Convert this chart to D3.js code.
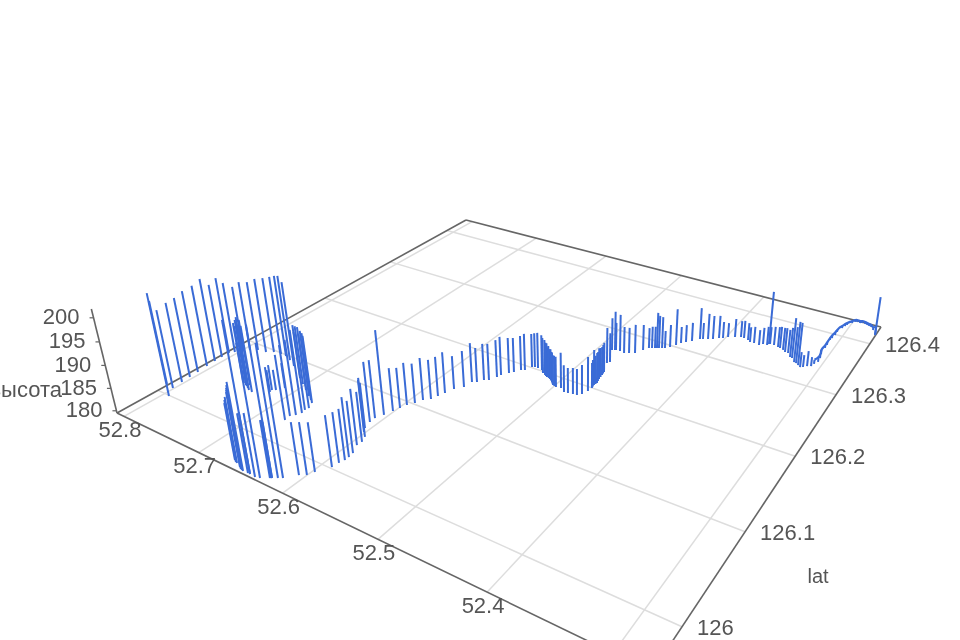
<!DOCTYPE html>
<html><head><meta charset="utf-8">
<style>html,body{margin:0;padding:0;background:#fff}svg{display:block;filter:blur(.55px)}text{font-family:"Liberation Sans",Arial,sans-serif;fill:#555}</style>
<script src="https://cdn.jsdelivr.net/npm/d3@7"></script></head><body><script>
const lonTicks=[52.3,52.4,52.5,52.6,52.7,52.8];
const latTicks=[126,126.1,126.2,126.3,126.4];
const altTicks=[180,185,190,195,200];
const lonValues=[52.7933,52.8120,52.8014,52.8028,52.8036,52.8044,52.8058,52.8067,52.8069,52.8070,52.8035,52.7997,52.7937,52.7869,52.7771,52.7704,
52.7615,52.7544,52.7454,52.7338,52.7129,52.7028,52.6929,52.6832,52.6769,52.6725,52.6690,52.6698,52.6686,52.6709,52.6743,52.6734,
52.6658,52.6612,52.6549,52.6504,52.6522,52.6630,52.6532,52.6487,52.6432,52.6408,52.6343,52.6230,52.6223,52.6216,52.6299,52.6216,
52.6175,52.6140,52.6408,52.6058,52.6003,52.5976,52.7564,52.7515,52.7472,52.7451,52.7416,52.7382,52.7440,52.7332,52.7199,52.7121,
52.7167,52.7189,52.5904,52.5893,52.5879,52.5879,52.5888,52.5937,52.5930,52.5958,52.6015,52.6048,52.6073,52.6076,52.6040,52.6013,
52.5990,52.5968,52.5927,52.5896,52.5844,52.5821,52.5797,52.5767,52.5709,52.5697,52.5657,52.5621,52.5581,52.5547,52.5535,52.5491,
52.5460,52.5423,52.5391,52.5363,52.5339,52.5304,52.5252,52.5214,52.5178,52.5143,52.5135,52.5100,52.5056,52.5020,52.4978,52.4929,
52.4870,52.4830,52.4782,52.4742,52.4711,52.4690,52.4684,52.4694,52.4687,52.4706,52.4717,52.4727,52.4784,52.4768,52.4863,52.4837,
52.4829,52.4786,52.4733,52.4691,52.4641,52.4600,52.4568,52.4542,52.4517,52.4500,52.4483,52.4457,52.4432,52.4398,52.4364,52.4339,
52.4305,52.4262,52.4210,52.4184,52.4141,52.4098,52.4054,52.4020,52.3984,52.3924,52.3872,52.3838,52.3788,52.3756,52.3714,52.3657,
52.3630,52.3588,52.3570,52.3579,52.3529,52.3481,52.3457,52.3418,52.3387,52.3355,52.3312,52.3289,52.3246,52.3223,52.3194,52.3165,
52.3141,52.3114,52.3081,52.3069,52.3048,52.3056,52.3072,52.3076,52.3078,52.3084,52.3079,52.3072,52.3074,52.3074,52.3056,52.3043,
52.3032,52.3018,52.3000,52.2980,52.2962,52.2930,52.2912,52.2879,52.2855,52.2832,52.2808,52.2773,52.2726,52.2726,
52.5160,52.5118,52.5078,52.5040,52.5000,52.4690,52.4690,52.4696,52.4712,52.4722];
const latValues=[125.9993,126.0106,126.0092,126.0196,126.0286,126.0378,126.0488,126.0584,126.0664,126.0746,126.0787,126.0851,126.0885,126.0924,
126.0938,126.0977,126.0986,126.0985,126.0954,126.0900,126.0786,126.0730,126.0676,126.0623,126.0588,126.0560,126.0493,126.0455,
126.0410,126.0363,126.0327,126.0265,125.9685,125.9668,125.9646,125.9629,125.9633,125.9672,125.9642,125.9625,125.9628,125.9628,
125.9623,125.9674,125.9678,125.9682,125.9635,125.9682,125.9706,125.9726,125.9628,125.9814,125.9846,125.9904,126.0499,126.0471,
126.0458,126.0451,126.0434,126.0417,126.0476,126.0409,126.0522,126.0603,126.0540,126.0491,126.0016,126.0081,126.0132,126.0176,
126.0230,126.0323,126.0374,126.0436,126.0482,126.0527,126.0611,126.0675,126.0747,126.0830,126.0894,126.0959,126.1017,126.1088,
126.1135,126.1202,126.1270,126.1360,126.1430,126.1530,126.1553,126.1611,126.1634,126.1710,126.1756,126.1820,126.1856,126.1917,
126.1935,126.2010,126.2024,126.2024,126.2015,126.1978,126.1960,126.1942,126.1946,126.1928,126.1897,126.1861,126.1848,126.1858,
126.1819,126.1824,126.1833,126.1838,126.1873,126.1940,126.1998,126.2048,126.2089,126.2154,126.2224,126.2276,126.2421,126.2450,
126.2643,126.2657,126.2662,126.2666,126.2654,126.2678,126.2707,126.2793,126.2853,126.2868,126.2883,126.2892,126.2902,126.2917,
126.2931,126.2972,126.3033,126.3091,126.3132,126.3178,126.3251,126.3266,126.3291,126.3315,126.3362,126.3382,126.3424,126.3458,
126.3488,126.3485,126.3470,126.3445,126.3448,126.3438,126.3475,126.3477,126.3509,126.3504,126.3511,126.3496,126.3488,126.3469,
126.3444,126.3442,126.3384,126.3377,126.3320,126.3313,126.3290,126.3267,126.3281,126.3316,126.3335,126.3382,126.3434,126.3510,
126.3583,126.3706,126.3769,126.3873,126.3919,126.3989,126.4055,126.4145,126.4155,126.4208,126.4238,126.4292,126.4302,126.4337,
126.4347,126.4342,126.4352,126.4348,126.4339,126.4329,126.4320,126.4272,126.4187,126.4187,
126.1950,126.1935,126.1912,126.1880,126.1855,126.2022,126.2068,126.2120,126.2190,126.2250];
const altValues=[202.0,198.1,196.9,197.3,197.4,197.9,197.9,198.4,196.3,197.0,195.7,194.4,195.5,195.5,196.6,196.8,197.5,198.1,198.9,198.7,191.6,192.6,
193.6,194.0,194.3,194.3,195.5,196.5,197.5,195.8,194.9,193.6,191.4,193.2,194.9,196.8,195.7,192.4,195.9,197.6,191.8,192.2,192.6,191.4,
191.4,191.0,206.1,209.4,206.1,201.6,209.7,190.4,190.4,189.8,192.5,192.4,194.2,193.9,195.4,194.1,194.2,194.3,185.2,185.2,184.1,184.5,
190.3,190.1,190.2,192.0,190.5,191.4,190.2,192.1,190.7,189.3,192.5,192.1,197.8,189.0,188.4,188.9,188.3,188.9,188.3,188.3,188.7,187.0,
187.7,188.4,187.3,187.8,187.8,188.0,188.3,187.6,187.4,187.4,187.9,187.2,187.4,187.7,187.6,187.6,187.6,187.3,186.4,186.4,186.4,186.4,
186.4,187.5,185.6,185.2,185.4,185.4,186.1,187.2,185.2,187.5,186.4,186.6,186.0,186.3,187.7,186.3,187.1,188.6,186.0,188.1,185.7,185.5,
186.2,185.5,184.3,184.6,184.6,187.9,187.2,186.9,183.6,184.8,188.1,183.4,183.6,183.9,187.0,183.4,185.6,185.1,184.9,183.4,182.9,183.9,
183.4,183.7,183.6,183.1,183.4,183.1,183.4,183.9,183.6,191.9,183.9,184.3,184.6,184.8,185.2,185.0,186.4,188.9,187.7,189.1,189.3,183.0,
182.3,183.0,181.6,180.5,180.7,180.5,180.5,180.2,180.2,180.0,180.2,180.2,180.0,179.7,180.0,180.0,180.0,179.8,180.0,180.0,180.0,180.0,
180.0,180.0,180.0,180.0,180.0,180.2,181.5,188.7,
187.2,186.9,186.7,186.5,186.4,185.6,186.0,186.2,186.2,186.1];

const W=960,H=640;
const L=[117,413],F=[652,672],R=[881,327],B=[466,220],V=[582,2300],tau=-0.05224;
const lonDom=[52.81,52.272], latDom=[125.96,126.437], altDom=[179.5,201.8];
const su=d3.scaleLinear().domain(lonDom).range([0,1]), sv=d3.scaleLinear().domain(latDom).range([0,1]), st=d3.scaleLinear().domain(altDom).range([0,tau]);
const dx1=F[0]-R[0],dx2=B[0]-R[0],sx=L[0]-F[0]+R[0]-B[0],dy1=F[1]-R[1],dy2=B[1]-R[1],sy=L[1]-F[1]+R[1]-B[1];
const den=dx1*dy2-dx2*dy1,g=(sx*dy2-dx2*sy)/den,h=(dx1*sy-sx*dy1)/den;
const a=F[0]-L[0]+g*F[0],b=B[0]-L[0]+h*B[0],c=L[0],d=F[1]-L[1]+g*F[1],e=B[1]-L[1]+h*B[1],f=L[1];
function proj(lon,lat,alt){const u=su(lon),v=sv(lat),t=st(alt);const w=g*u+h*v+1;
 return [(a*u+b*v+c+t*V[0])/(w+t),(d*u+e*v+f+t*V[1])/(w+t)];}
const svg=d3.select('body').append('svg').attr('width',W).attr('height',H);
const line=(p,q,col,wd)=>svg.append('line').attr('x1',p[0]).attr('y1',p[1]).attr('x2',q[0]).attr('y2',q[1]).attr('stroke',col).attr('stroke-width',wd);
const z0=altDom[0];
lonTicks.forEach(t=>line(proj(t,latDom[0],z0),proj(t,latDom[1],z0),'#ddd',1.5));
latTicks.forEach(t=>line(proj(lonDom[0],t,z0),proj(lonDom[1],t,z0),'#ddd',1.5));
const ax='#666';
line(proj(lonDom[0],latDom[0],z0),proj(lonDom[1],latDom[0],z0),ax,1.6);
line(proj(lonDom[1],latDom[0],z0),proj(lonDom[1],latDom[1],z0),ax,1.6);
line(proj(lonDom[1],latDom[1],z0),proj(lonDom[0],latDom[1],z0),ax,1.6);
line(proj(lonDom[0],latDom[1],z0),proj(lonDom[0],latDom[0],z0),ax,1.6);
line(proj(lonDom[0],latDom[0],altDom[0]),proj(lonDom[0],latDom[0],altDom[1]),ax,1.6);
const fs=22;
const txt=(s,x,y,anc,size)=>svg.append('text').attr('x',x).attr('y',y).attr('dy','.36em').attr('text-anchor',anc).attr('font-size',size||fs).text(s);
lonTicks.filter(t=>t>=52.4).forEach(t=>{const p=proj(t,latDom[0],z0);txt(t.toFixed(1),p[0]-4,p[1]+13,'middle');});
latTicks.forEach(t=>{const p=proj(lonDom[1],t,z0);txt(d3.format('~g')(t),p[0]+15,p[1],'start');});
altTicks.forEach(t=>{const p=proj(lonDom[0],latDom[0],t);line([p[0]-4,p[1]],p,ax,1.2);txt(t,p[0]-14,p[1]-1.5,'end');});
txt('высота',62,389,'end',22);txt('lat',818,576,'middle',20);
const rows=d3.range(lonValues.length).map(i=>[lonValues[i],latValues[i],altValues[i]]);
rows.forEach(r=>line(proj(r[0],r[1],z0),proj(r[0],r[1],r[2]),'#3a6bd6',2));
const tail=rows.slice(179,205).map(r=>proj(r[0],r[1],r[2]));
svg.append('path').attr('d',d3.line().curve(d3.curveCatmullRom)(tail)).attr('fill','none').attr('stroke','#3a6bd6').attr('stroke-width',2.2);
</script></body></html>
